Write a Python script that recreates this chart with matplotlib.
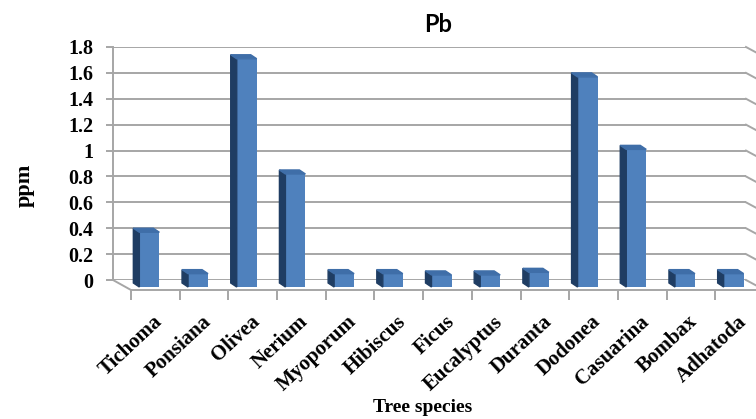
import matplotlib
matplotlib.use("Agg")
import matplotlib.pyplot as plt
from matplotlib.patches import Polygon
from matplotlib.transforms import ScaledTranslation

species = ["Tichoma", "Ponsiana", "Olivea", "Nerium", "Myoporum", "Hibiscus", "Ficus",
           "Eucalyptus", "Duranta", "Dodonea", "Casuarina", "Bombax", "Adhatoda"]
pb_ppm = [0.40, 0.08, 1.74, 0.85, 0.08, 0.08, 0.07, 0.07, 0.09, 1.60, 1.04, 0.08, 0.08]
y_ticks = [0, 0.2, 0.4, 0.6, 0.8, 1, 1.2, 1.4, 1.6, 1.8]
y_tick_labels = ["0", "0.2", "0.4", "0.6", "0.8", "1", "1.2", "1.4", "1.6", "1.8"]

W, H = 756, 419
SERIF = "Liberation Serif"
GRID = "#a6a6a6"

fig = plt.figure(figsize=(W / 100, H / 100), dpi=100)

# back wall, pixel box 113..746 x 47..280
left, right, top, bottom = 113, 746, 47, 280
ax = fig.add_axes([left / W, 1 - bottom / H, (right - left) / W, (bottom - top) / H])
ax.set_xlim(-0.5, len(species) - 0.5)
ax.set_ylim(0, 1.8)
ux = len(species) / (right - left)   # data units per pixel
uy = 1.8 / (bottom - top)

for s in ["top", "right", "bottom"]:
    ax.spines[s].set_visible(False)
ax.spines["left"].set_color(GRID)
ax.spines["left"].set_linewidth(1.4)
ax.set_xticks([])
ax.set_yticks(y_ticks)
ax.set_yticklabels(y_tick_labels, fontfamily=SERIF, fontweight="bold", fontsize=14.5)
ax.tick_params(axis="y", length=5, width=1.4, color=GRID, pad=9)
ax.yaxis.grid(True, color=GRID, linewidth=1.4)
ax.set_axisbelow(True)

# perspective bend at right end of gridlines
for g in y_ticks:
    ax.plot([len(species) - 0.5, len(species) - 0.5 + 13 * ux], [g, g - 7 * uy],
            color=GRID, lw=1.4, clip_on=False)

# floor left edge
ax.plot([-0.5, -0.5 + 18 * ux], [0, -10 * uy], color=GRID, lw=1.4, clip_on=False)

# columns: front face, dark left side and top
xs = list(range(len(species)))
fx = [x + 12 * ux for x in xs]
fw = 20 * ux
fbot = -7 * uy
fh = [v + 3 * uy for v in pb_ppm]
bdx, bdy = -6 * ux, 4 * uy
front = "#4f81bd"
side = "#1f3d63"
topc = "#3f6ea8"
ax.bar(fx, fh, width=fw, bottom=fbot, color=front, zorder=3, clip_on=False)
for x, h in zip(fx, fh):
    x0, x1 = x - fw / 2, x + fw / 2
    t = fbot + h
    ax.add_patch(Polygon([(x0, fbot), (x0, t), (x0 + bdx, t + bdy), (x0 + bdx, fbot + bdy)],
                         closed=True, color=side, zorder=3, clip_on=False))
    ax.add_patch(Polygon([(x0, t), (x1, t), (x1 + bdx, t + bdy), (x0 + bdx, t + bdy)],
                         closed=True, color=topc, zorder=3, clip_on=False))

# floor front edge with category ticks and labels
fl = left + 18
fb = bottom + 10
axf = fig.add_axes([fl / W, 1 - fb / H, (right - left) / W, 0.001])
axf.set_xlim(-0.5, len(species) - 0.5)
axf.patch.set_visible(False)
for s in ["top", "right", "left"]:
    axf.spines[s].set_visible(False)
axf.spines["bottom"].set_color(GRID)
axf.spines["bottom"].set_linewidth(1.4)
axf.set_yticks([])
axf.set_xticks(xs)
axf.set_xticks([x - 0.5 for x in range(len(species) + 1)], minor=True)
axf.tick_params(axis="x", which="major", length=0, pad=21)
axf.tick_params(axis="x", which="minor", length=7, width=1.4, color=GRID)
axf.set_xticklabels(species, ha="right", va="center", rotation_mode="anchor",
                    fontfamily=SERIF, fontweight="bold", fontsize=15)
shift = ScaledTranslation(4 / 100, 0, fig.dpi_scale_trans)
for lab in axf.get_xticklabels():
    lab.set_rotation(43)
    lab.set_transform(lab.get_transform() + shift)

fig.text(423 / W, 1 - 407 / H, "Tree species", ha="center", va="center",
         fontfamily=SERIF, fontweight="bold", fontsize=14)
fig.text(25 / W, 1 - 185 / H, "ppm", ha="center", va="center", rotation=90,
         fontfamily=SERIF, fontweight="bold", fontsize=16)
fig.text(438 / W, 1 - 25 / H, "Pb", ha="center", va="center",
         fontfamily="Lato", fontweight="bold", fontsize=17)

fig.savefig("out.png", dpi=100)
